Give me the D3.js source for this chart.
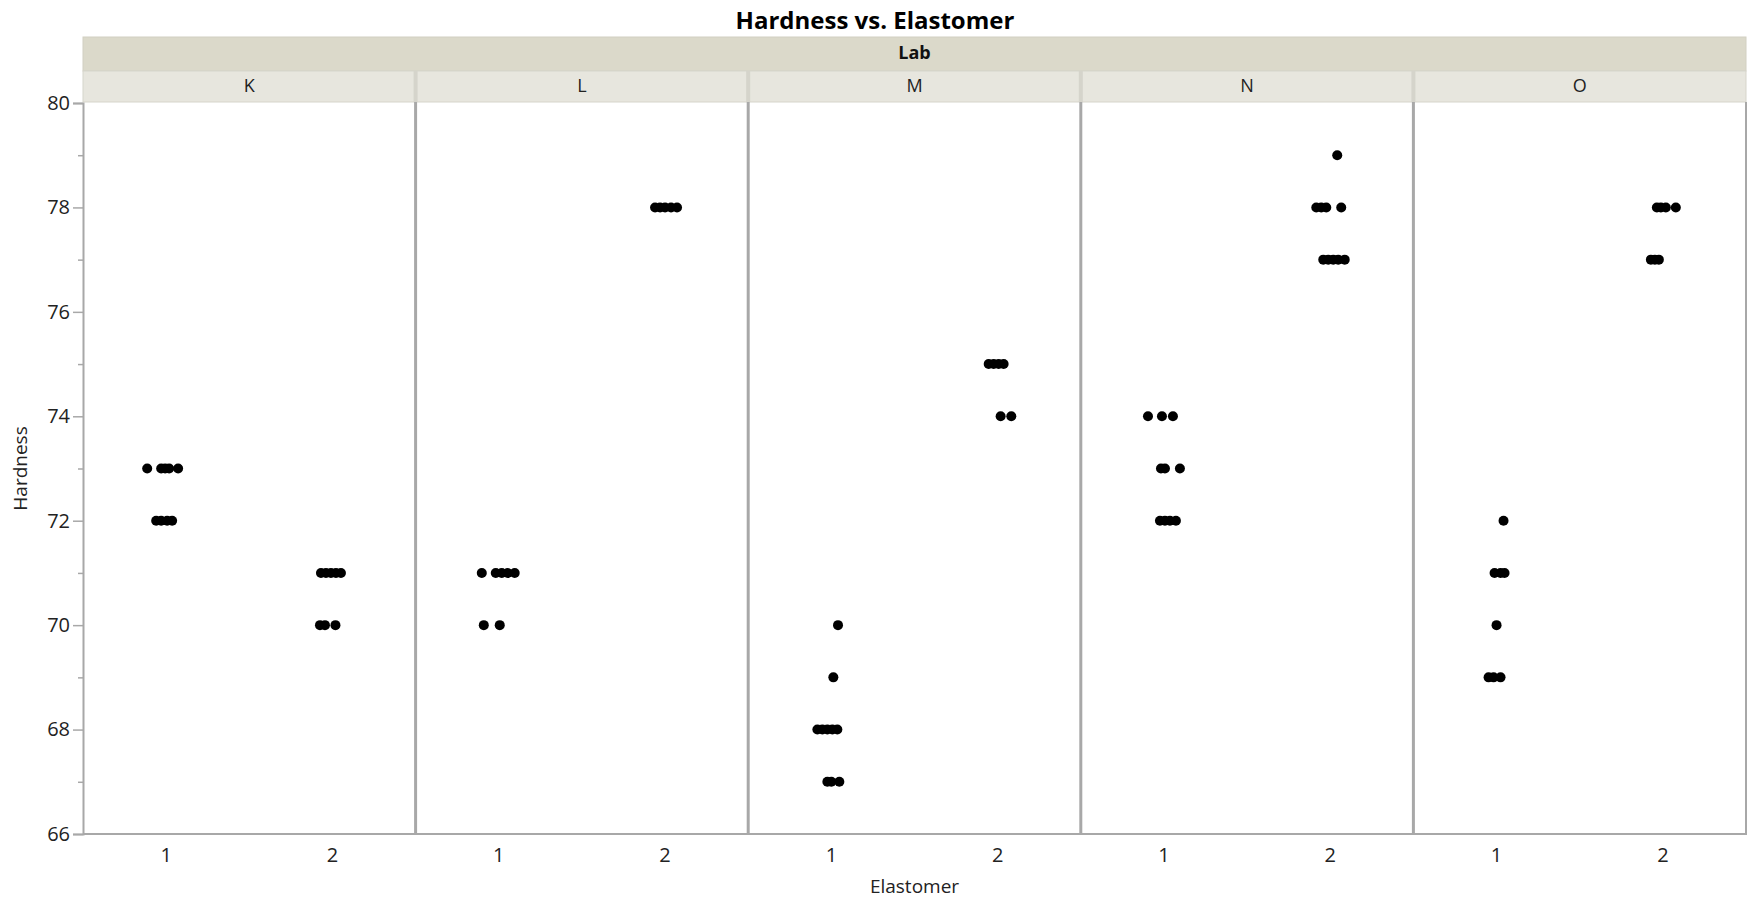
<!DOCTYPE html>
<html><head><meta charset="utf-8">
<script src="https://cdn.jsdelivr.net/npm/d3@7"></script>
<style>body{margin:0;background:#fff} text{font-family:"Open Sans","Noto Sans",sans-serif}</style>
</head><body><svg id="c" width="1750" height="901"></svg>
<script>
const labs = ["K","L","M","N","O"];
const elastomers = [1,2];
const yTicks = [66,68,70,72,74,76,78,80];
const yMinorTicks = [67,69,71,73,75,77,79];
// each group: points with the same lab, elastomer and hardness; jitter in elastomer units
const groupLab       = ["K","K","K","K","L","L","L","M","M","M","M","M","M","N","N","N","N","N","N","O","O","O","O","O","O"];
const groupElastomer = [1,1,2,2,1,1,2,1,1,1,1,2,2,1,1,1,2,2,2,1,1,1,1,2,2];
const groupHardness  = [73,72,71,70,71,70,78,70,69,68,67,75,74,74,73,72,79,78,77,72,71,70,69,78,77];
const groupJitter = [
  [-0.114,-0.030,-0.006,0.018,0.072],
  [-0.060,-0.030,0.006,0.036],
  [-0.069,-0.039,-0.009,0.021,0.051],
  [-0.075,-0.045,0.018],
  [-0.102,-0.018,0.018,0.054,0.096],
  [-0.090,0.006],
  [-0.060,-0.030,0.000,0.036,0.072],
  [0.040],
  [0.012],
  [-0.084,-0.054,-0.024,0.006,0.036],
  [-0.024,0.000,0.048],
  [-0.054,-0.024,0.006,0.036],
  [0.018,0.082],
  [-0.096,-0.012,0.054],
  [-0.018,0.006,0.096],
  [-0.024,0.006,0.036,0.072],
  [0.042],
  [-0.084,-0.054,-0.024,0.066],
  [-0.042,-0.012,0.018,0.048,0.087],
  [0.042],
  [-0.012,0.024,0.048],
  [0.000],
  [-0.048,-0.018,0.024],
  [-0.036,-0.012,0.018,0.078],
  [-0.072,-0.048,-0.024]
];

const points = [];
groupLab.forEach((lab,i)=>{
  groupJitter[i].forEach(j=>points.push({lab, el: groupElastomer[i], hardness: groupHardness[i], jitter: j}));
});

const svg = d3.select("#c");
const L = 83, R = 1746, T = 103, B = 834;
const gray = "#a8a8a8";

const xPanel = d3.scaleBand().domain(labs).range([L, R]);
const xIn = d3.scaleLinear().domain([0.5, 2.5]).range([0, xPanel.bandwidth()]);
const y = d3.scaleLinear().domain([66, 80]).range([B, T]);

// title
svg.append("text").attr("x", 875).attr("y", 29).attr("text-anchor","middle")
  .attr("font-size", 24).attr("font-weight","bold").attr("fill","#000").text("Hardness vs. Elastomer");

// Lab band
svg.append("rect").attr("x", L).attr("y", 37).attr("width", R-L).attr("height", 34)
  .attr("fill","#dbd9ca").attr("stroke","#d2d0c2").attr("stroke-width",1);
svg.append("text").attr("x",(L+R)/2).attr("y",59).attr("text-anchor","middle")
  .attr("font-size",18).attr("font-weight","bold").attr("fill","#111").text("Lab");

// panel strips
const strips = svg.append("g");
labs.forEach(lab=>{
  strips.append("rect").attr("x", xPanel(lab)).attr("y", 71).attr("width", xPanel.bandwidth()).attr("height", 31)
    .attr("fill","#e7e6de").attr("stroke","#d6d5cb").attr("stroke-width",1);
  strips.append("text").attr("x", xPanel(lab)+xPanel.bandwidth()/2).attr("y", 92)
    .attr("text-anchor","middle").attr("font-size",18).attr("fill","#222").text(lab);
});

// panel dividers
labs.slice(1).forEach(lab=>{
  const x = xPanel(lab);
  svg.append("line").attr("x1",x).attr("x2",x).attr("y1",71).attr("y2",102)
    .attr("stroke","#d5d4cb").attr("stroke-width",4);
  svg.append("line").attr("x1",x).attr("x2",x).attr("y1",102).attr("y2",B)
    .attr("stroke",gray).attr("stroke-width",3);
});
// right border
svg.append("line").attr("x1",R).attr("x2",R).attr("y1",102).attr("y2",B).attr("stroke",gray).attr("stroke-width",2);
// bottom axis line
svg.append("line").attr("x1",L).attr("x2",R+1).attr("y1",B).attr("y2",B).attr("stroke",gray).attr("stroke-width",2);

// y axis
const yAxis = svg.append("g").attr("transform",`translate(${L},0)`)
  .call(d3.axisLeft(y).tickValues(yTicks).tickSize(10).tickPadding(3).tickFormat(d3.format("d")));
yAxis.select(".domain").attr("stroke",gray).attr("stroke-width",2);
yAxis.selectAll(".tick line").attr("stroke",gray).attr("stroke-width",1.5);
yAxis.selectAll(".tick text").attr("font-size",20).attr("fill","#222").attr("font-family",'"Open Sans",sans-serif');
const yMinor = svg.append("g").attr("transform",`translate(${L},0)`)
  .call(d3.axisLeft(y).tickValues(yMinorTicks).tickSize(5).tickFormat(""));
yMinor.select(".domain").remove();
yMinor.selectAll(".tick line").attr("stroke",gray).attr("stroke-width",1.5);

// x tick labels
labs.forEach(lab=>{
  elastomers.forEach(e=>{
    svg.append("text").attr("x", xPanel(lab)+xIn(e)).attr("y", 862).attr("text-anchor","middle")
      .attr("font-size",20).attr("fill","#222").text(e);
  });
});

// axis titles
svg.append("text").attr("x",(L+R)/2).attr("y",893).attr("text-anchor","middle")
  .attr("font-size",19).attr("fill","#222").text("Elastomer");
svg.append("text").attr("transform",`translate(27,${(T+B)/2}) rotate(-90)`).attr("text-anchor","middle")
  .attr("font-size",19).attr("fill","#222").text("Hardness");

// points
svg.append("g").selectAll("circle").data(points).join("circle")
  .attr("cx", d=>xPanel(d.lab)+xIn(d.el + d.jitter))
  .attr("cy", d=>y(d.hardness))
  .attr("r", 5).attr("fill","#000");
</script></body></html>
